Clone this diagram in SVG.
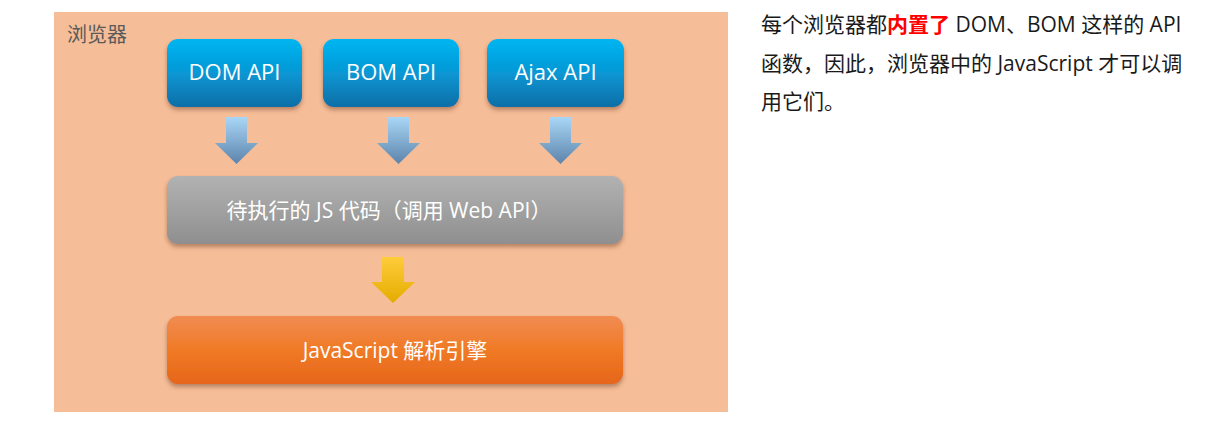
<svg xmlns="http://www.w3.org/2000/svg" width="1212" height="431" viewBox="0 0 1212 431">
<defs>
<linearGradient id="gBlue" x1="0" y1="0" x2="0" y2="1"><stop offset="0" stop-color="#00b6f2"/><stop offset="0.5" stop-color="#0797d4"/><stop offset="1" stop-color="#0a6ea6"/></linearGradient>
<linearGradient id="gGray" x1="0" y1="0" x2="0" y2="1"><stop offset="0" stop-color="#b2b2b2"/><stop offset="1" stop-color="#8f8f8f"/></linearGradient>
<linearGradient id="gOrange" x1="0" y1="0" x2="0" y2="1"><stop offset="0" stop-color="#f08c52"/><stop offset="0.5" stop-color="#f07a26"/><stop offset="1" stop-color="#e6661a"/></linearGradient>
<linearGradient id="gArrowB" x1="0" y1="0" x2="0" y2="1"><stop offset="0" stop-color="#a9d6f6"/><stop offset="1" stop-color="#5d84ac"/></linearGradient>
<linearGradient id="gArrowY" x1="0" y1="0" x2="0" y2="1"><stop offset="0" stop-color="#ffcc3a"/><stop offset="1" stop-color="#e4ac00"/></linearGradient>
<filter id="sh" x="-10%" y="-20%" width="120%" height="150%"><feDropShadow dx="0" dy="3" stdDeviation="2" flood-color="#6a3a20" flood-opacity="0.45"/></filter>
</defs>
<style>
.lbl{font-family:"Open Sans","Noto Sans CJK SC",sans-serif;font-size:21px;fill:#ffffff;text-anchor:middle}
.box{font-size:22px}
.title{font-family:"Noto Sans CJK SC",sans-serif;font-size:20px;fill:#595959}
.desc{font-family:"Open Sans","Noto Sans CJK SC",sans-serif;font-size:21px;fill:#1a1a1a}
.hl{fill:#ff0000;font-weight:bold}
</style>
<rect width="1212" height="431" fill="#ffffff"/>
<g id="browser">
<rect x="54" y="12" width="674" height="400" fill="#f5bd98"/>
<text class="title" x="67" y="42">浏览器</text>
</g>
<g id="dom">
<rect x="167" y="39" width="135" height="68" rx="11" fill="url(#gBlue)" filter="url(#sh)"/>
<text class="lbl box" x="234.5" y="80">DOM API</text>
</g>
<g id="bom">
<rect x="323" y="39" width="136" height="68" rx="11" fill="url(#gBlue)" filter="url(#sh)"/>
<text class="lbl box" x="391" y="80">BOM API</text>
</g>
<g id="ajax">
<rect x="487" y="39" width="137" height="68" rx="11" fill="url(#gBlue)" filter="url(#sh)"/>
<text class="lbl box" x="555.5" y="80">Ajax API</text>
</g>
<g id="code">
<rect x="167" y="176" width="456" height="68" rx="11" fill="url(#gGray)" filter="url(#sh)"/>
<text class="lbl" x="389" y="218">待执行的 JS 代码（调用 Web API）</text>
</g>
<g id="engine">
<rect x="167" y="316" width="456" height="68" rx="11" fill="url(#gOrange)" filter="url(#sh)"/>
<text class="lbl" x="395" y="358">JavaScript 解析引擎</text>
</g>
<g id="connectors">
<path d="M226,117 H247 V143 H258 L236.5,164 L215,143 H226 Z" fill="url(#gArrowB)"/>
<path d="M388,117 H409 V143 H420 L398.5,164 L377,143 H388 Z" fill="url(#gArrowB)"/>
<path d="M550,117 H571 V143 H582 L560.5,164 L539,143 H550 Z" fill="url(#gArrowB)"/>
<path d="M382,257 H404 V282 H415 L393,303 L371,282 H382 Z" fill="url(#gArrowY)"/>
</g>
<g id="description">
<text class="desc" x="761" y="32">每个浏览器都<tspan class="hl">内置了</tspan> DOM、BOM 这样的 API</text>
<text class="desc" x="761" y="71">函数，因此，浏览器中的 JavaScript 才可以调</text>
<text class="desc" x="761" y="109">用它们。</text>
</g>
</svg>
